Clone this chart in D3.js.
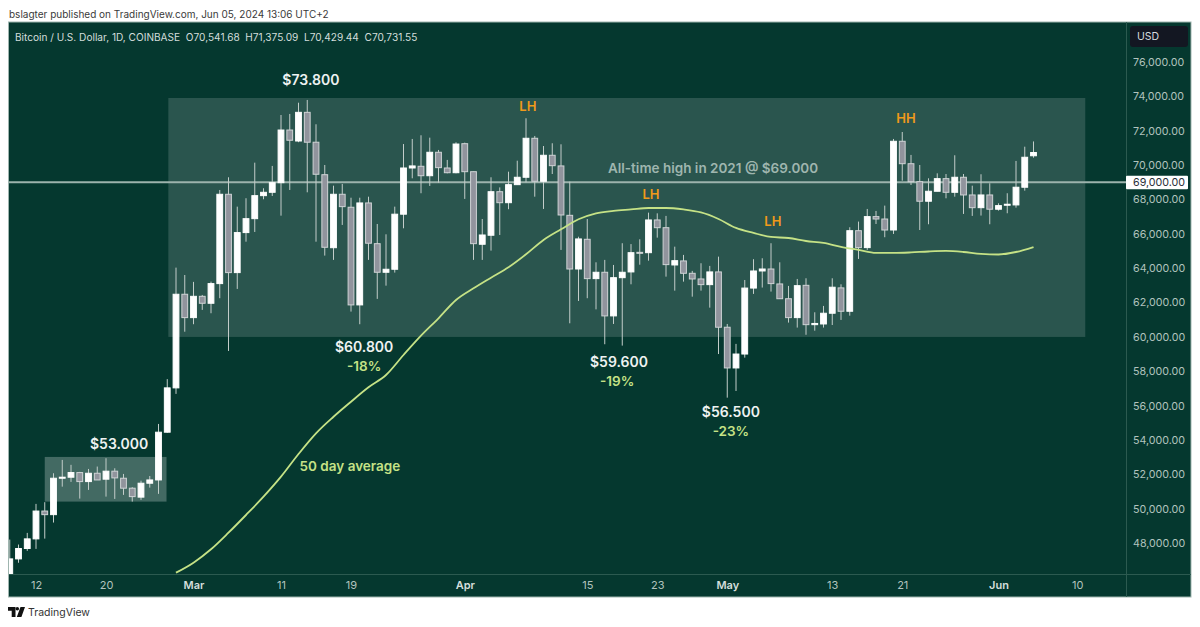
<!DOCTYPE html>
<html>
<head>
<meta charset="utf-8">
<script src="https://cdn.jsdelivr.net/npm/d3@7"></script>
<style>
  html, body { margin: 0; padding: 0; background: #fff; }
  svg { display: block; font-family: Inter, "Liberation Sans", sans-serif; }
</style>
</head>
<body>
<div id="graph"></div>
<script>
// daily candles, Feb 9 to Jun 5 2024
const dates = d3.timeDay.range(new Date(2024, 1, 9), new Date(2024, 5, 6));

const opens = [45290, 47075, 47680, 48240, 49860, 49650, 51770, 51830, 52100, 51575, 52060, 51715, 52180, 51770, 51190, 50670, 51480, 51670, 54450, 57030,
  62480, 61120, 62360, 61955, 63100, 68300, 63740, 66070, 66880, 68220, 68415, 68975, 72040, 71400, 73070, 71330, 69440, 65190, 68300, 67545,
  61860, 67795, 65425, 63760, 63935, 67140, 69830, 69930, 69380, 70745, 69830, 69555, 71245, 69615, 65390, 65915, 68450, 67810, 68860, 69290,
  71560, 69055, 70570, 69950, 67075, 63950, 65680, 63390, 63760, 61220, 63445, 63780, 64920, 64900, 66805, 66355, 64185, 64420, 63700, 63370,
  63040, 63780, 60560, 58190, 59000, 62840, 63835, 63950, 63080, 62220, 61120, 63000, 60710, 60750, 61375, 62850, 61490, 66180, 65195, 67000,
  66860, 66220, 71385, 70080, 69035, 67895, 68475, 69210, 68415, 69290, 68260, 67520, 68260, 67430, 67680, 67680, 68710, 70541.68];
const highs = [48200, 47910, 48588, 50276, 50375, 52060, 52835, 52550, 52140, 52310, 52450, 52935, 52350, 52020, 51250, 51630, 51900, 54930, 57540, 64030,
  63600, 63200, 62440, 63215, 68550, 69290, 67580, 68070, 70140, 68650, 69950, 72915, 72975, 73630, 73790, 72375, 70005, 68800, 68900, 68100,
  68100, 68160, 66570, 65970, 67580, 71225, 71520, 71735, 71595, 70880, 70300, 71325, 71305, 69615, 66860, 69290, 68700, 69615, 70255, 72725,
  71695, 71110, 71270, 71210, 69035, 65830, 66860, 64340, 64480, 64185, 65450, 65400, 65680, 67230, 67190, 67040, 65250, 64770, 63840, 64285,
  64130, 64670, 60750, 59590, 63310, 64520, 64575, 65450, 64340, 62965, 63370, 63410, 61430, 61800, 63410, 63060, 66380, 66710, 67445, 67330,
  67640, 71520, 71925, 70590, 70005, 69230, 69520, 69480, 70570, 69480, 68800, 69465, 68940, 67775, 68360, 70240, 71070, 71375.09];
const lows = [45250, 46850, 47540, 47657, 48255, 49190, 51280, 51556, 50585, 51090, 51670, 50700, 50565, 50800, 50410, 50510, 51225, 50860, 54420, 56680,
  60300, 60735, 61570, 61375, 62250, 59180, 62790, 65540, 66105, 68010, 68200, 67055, 68550, 71330, 68415, 65540, 64730, 64480, 66515, 61470,
  60735, 64480, 62210, 62980, 63740, 66320, 69230, 68360, 68785, 68975, 69520, 69520, 68030, 64480, 64480, 65020, 65930, 67430, 68860, 69000,
  68160, 67445, 69480, 65060, 60790, 62090, 62250, 61600, 59570, 60750, 59490, 63060, 64200, 64435, 65775, 63505, 62690, 63215, 62340, 62690,
  61700, 59000, 56460, 56850, 58790, 62500, 62870, 62635, 62220, 60830, 60540, 60120, 60360, 60540, 60690, 60985, 61235, 64535, 65060, 66570,
  65800, 65990, 69090, 68840, 66220, 66555, 68475, 68065, 68160, 67155, 67040, 67060, 66555, 67350, 67195, 67520, 68510, 70429.44];
const closes = [47075, 47680, 48240, 49860, 49650, 51770, 51830, 52100, 51575, 52060, 51670, 52180, 51790, 51190, 50700, 51480, 51670, 54450, 57030, 62480,
  61120, 62360, 61955, 63100, 68300, 63740, 66070, 66880, 68220, 68415, 68975, 72040, 71445, 73070, 71330, 69465, 65215, 68300, 67580, 61860,
  67795, 65450, 63760, 63935, 67140, 69830, 69950, 69380, 70745, 69850, 69555, 71225, 69615, 65425, 65930, 68450, 67810, 68860, 69290, 71560,
  69055, 70570, 69965, 67095, 63950, 65700, 63390, 63760, 61220, 63445, 63760, 64900, 64900, 66805, 66355, 64205, 64435, 63700, 63370, 63040,
  63780, 60560, 58190, 59000, 62840, 63835, 63950, 63100, 62220, 61120, 62980, 60710, 60780, 61375, 62890, 61490, 66180, 65195, 67000, 66860,
  66220, 71385, 70080, 69035, 67895, 68475, 69210, 68415, 69290, 68260, 67520, 68260, 67430, 67640, 67720, 68710, 70455, 70731.55];

// 50 day average, read every second candle from Feb 28
const maDates = dates.filter((d, i) => i >= 19 && i % 2 === 1);
const maValues = [46272, 46855, 47635, 48600, 49630, 50695, 51860, 53180, 54385, 55350, 56225, 57065, 57780, 58945, 60070, 61080, 62145, 62825, 63445, 64050,
  64805, 65640, 66260, 66845, 67195, 67330, 67415, 67500, 67500, 67415, 67240, 66860, 66340, 66050, 65815, 65755, 65580, 65465, 65235, 65060,
  64885, 64885, 64915, 64970, 65000, 64940, 64825, 64795, 64940, 65230];

const priceTicks = d3.range(48000, 76001, 2000);
const dayTicks = [new Date(2024, 1, 12), new Date(2024, 1, 20), new Date(2024, 2, 1), new Date(2024, 2, 11), new Date(2024, 2, 19), new Date(2024, 3, 1),
  new Date(2024, 3, 15), new Date(2024, 3, 23), new Date(2024, 4, 1), new Date(2024, 4, 13), new Date(2024, 4, 21), new Date(2024, 5, 1), new Date(2024, 5, 10)];
const dayLabels = ["12", "20", "Mar", "11", "19", "Apr", "15", "23", "May", "13", "21", "Jun", "10"];

const allTimeHigh = 69000;
const bigBoxDates = [new Date(2024, 1, 27, 3), new Date(2024, 5, 10, 22)];
const bigBoxPrices = [59995, 73905];
const smallBoxDates = [new Date(2024, 1, 13), new Date(2024, 1, 26, 22)];
const smallBoxPrices = [50410, 53010];

const whiteNotes = ["$73.800", "$53.000", "$60.800", "$59.600", "$56.500"];
const whiteDates = [new Date(2024, 2, 14, 10), new Date(2024, 1, 21, 12), new Date(2024, 2, 20, 12), new Date(2024, 3, 18, 15), new Date(2024, 4, 1, 10)];
const whitePrices = [74950, 53770, 59410, 58540, 55630];
const greenNotes = ["-18%", "-19%", "-23%", "50 day average"];
const greenDates = [new Date(2024, 2, 20, 12), new Date(2024, 3, 18, 10), new Date(2024, 4, 1, 10), new Date(2024, 2, 18, 21)];
const greenPrices = [58310, 57430, 54520, 52490];
const orangeNotes = ["LH", "LH", "LH", "HH"];
const orangeDates = [new Date(2024, 3, 8, 5), new Date(2024, 3, 22, 7), new Date(2024, 4, 6, 5), new Date(2024, 4, 21, 10)];
const orangePrices = [73440, 68320, 66750, 72740];

const bg = "#05382f";
const lineCol = "#2c5a50";

const svg = d3.select("#graph")
    .append("svg")
    .attr("width", 1200)
    .attr("height", 627);

svg.append("text")
    .attr("x", 9)
    .attr("y", 18)
    .attr("font-size", 10)
    .attr("fill", "#3a3a3a")
    .text("bslagter published on TradingView.com, Jun 05, 2024 13:06 UTC+2");

// chart frame
svg.append("rect")
    .attr("x", 8.5)
    .attr("y", 22)
    .attr("width", 1182.5)
    .attr("height", 575)
    .attr("fill", bg)
    .attr("stroke", "#9fb5af")
    .attr("stroke-width", 1);

const xScale = d3.scaleTime()
    .domain([new Date(2024, 1, 12), new Date(2024, 5, 10)])
    .range([36, 1077.25]);

const yScale = d3.scaleLinear()
    .domain([48000, 76000])
    .range([543, 62]);

svg.append("clipPath")
    .attr("id", "plot-clip")
    .append("rect")
    .attr("x", 9)
    .attr("y", 23)
    .attr("width", 1117)
    .attr("height", 551);

const plot = svg.append("g").attr("clip-path", "url(#plot-clip)");

plot.append("rect")
    .attr("x", xScale(bigBoxDates[0]))
    .attr("y", yScale(bigBoxPrices[1]))
    .attr("width", xScale(bigBoxDates[1]) - xScale(bigBoxDates[0]))
    .attr("height", yScale(bigBoxPrices[0]) - yScale(bigBoxPrices[1]))
    .attr("fill", "#fff")
    .attr("opacity", 0.15);

plot.append("rect")
    .attr("x", xScale(smallBoxDates[0]))
    .attr("y", yScale(smallBoxPrices[1]))
    .attr("width", xScale(smallBoxDates[1]) - xScale(smallBoxDates[0]))
    .attr("height", yScale(smallBoxPrices[0]) - yScale(smallBoxPrices[1]))
    .attr("fill", "#fff")
    .attr("opacity", 0.25);

plot.append("line")
    .attr("x1", 9)
    .attr("x2", 1126)
    .attr("y1", yScale(allTimeHigh))
    .attr("y2", yScale(allTimeHigh))
    .attr("stroke", "#9db3ad")
    .attr("stroke-width", 2);

const candles = plot.append("g").selectAll("g")
    .data(dates)
    .enter()
    .append("g");

candles.append("line")
    .attr("x1", d => xScale(d))
    .attr("x2", d => xScale(d))
    .attr("y1", (d, i) => yScale(highs[i]))
    .attr("y2", (d, i) => yScale(lows[i]))
    .attr("stroke", "#c3cdca")
    .attr("stroke-width", 1);

candles.append("rect")
    .attr("x", d => xScale(d) - 2.9)
    .attr("y", (d, i) => yScale(Math.max(opens[i], closes[i])))
    .attr("width", 5.8)
    .attr("height", (d, i) => Math.max(1, Math.abs(yScale(opens[i]) - yScale(closes[i]))))
    .attr("fill", (d, i) => closes[i] >= opens[i] ? "#fff" : "#91949d")
    .attr("stroke", (d, i) => closes[i] >= opens[i] ? "#fff" : "#cfd3d5")
    .attr("stroke-width", 1);

const maLine = d3.line()
    .x(d => xScale(d))
    .y((d, i) => yScale(maValues[i]))
    .curve(d3.curveMonotoneX);

plot.append("path")
    .attr("d", maLine(maDates))
    .attr("fill", "none")
    .attr("stroke", "#c5e286")
    .attr("stroke-width", 1.8);

// axis separators
svg.append("line")
    .attr("x1", 1126.5).attr("x2", 1126.5)
    .attr("y1", 22).attr("y2", 597)
    .attr("stroke", lineCol);
svg.append("line")
    .attr("x1", 9).attr("x2", 1191)
    .attr("y1", 574.5).attr("y2", 574.5)
    .attr("stroke", lineCol);

const yAxis = d3.axisRight(yScale)
    .tickValues(priceTicks)
    .tickSize(0)
    .tickPadding(0)
    .tickFormat(d3.format(",.2f"));

const yGroup = svg.append("g")
    .attr("transform", "translate(1133,0)")
    .call(yAxis);
yGroup.select(".domain").remove();
yGroup.selectAll("text")
    .attr("font-family", "Inter, 'Liberation Sans', sans-serif")
    .attr("font-size", 10.7)
    .attr("fill", "#b2c3be");

const xAxis = d3.axisBottom(xScale)
    .tickValues(dayTicks)
    .tickSize(0)
    .tickPadding(0)
    .tickFormat((d, i) => dayLabels[i]);

const xGroup = svg.append("g")
    .attr("transform", "translate(0,581)")
    .call(xAxis);
xGroup.select(".domain").remove();
xGroup.selectAll("text")
    .attr("font-family", "Inter, 'Liberation Sans', sans-serif")
    .attr("font-size", 11)
    .attr("font-weight", (d, i) => isNaN(dayLabels[i]) ? 600 : 400)
    .attr("fill", (d, i) => isNaN(dayLabels[i]) ? "#d5dfdc" : "#b2c3be");

svg.append("text")
    .attr("x", 15)
    .attr("y", 40.5)
    .attr("font-size", 10.1)
    .attr("fill", "#d3dedb")
    .text("Bitcoin / U.S. Dollar, 1D, COINBASE\u00a0\u00a0O70,541.68\u00a0\u00a0H71,375.09\u00a0\u00a0L70,429.44\u00a0\u00a0C70,731.55");

// annotations
function addNotes(notes, noteDates, notePrices, colour, size, weight) {
    svg.append("g").selectAll("text")
        .data(notes)
        .enter()
        .append("text")
        .attr("x", (d, i) => xScale(noteDates[i]))
        .attr("y", (d, i) => yScale(notePrices[i]))
        .attr("dy", "0.36em")
        .attr("text-anchor", "middle")
        .attr("font-size", size)
        .attr("font-weight", weight)
        .attr("fill", colour)
        .text(d => d);
}

addNotes(whiteNotes, whiteDates, whitePrices, "#eef2f1", 14, 600);
addNotes(greenNotes, greenDates, greenPrices, "#c5e286", 13.5, 600);
addNotes(orangeNotes, orangeDates, orangePrices, "#f09a1a", 13, 600);
addNotes(["All-time high in 2021 @ $69.000"], [new Date(2024, 3, 29, 9)], [69830], "#9fb6af", 13.5, 600);

// price tags on the axis
svg.append("rect")
    .attr("x", 1130)
    .attr("y", 26)
    .attr("width", 58)
    .attr("height", 21)
    .attr("rx", 3)
    .attr("fill", "#131722");
svg.append("text")
    .attr("x", 1137)
    .attr("y", 40)
    .attr("font-size", 10.5)
    .attr("fill", "#d6dade")
    .text("USD");

svg.append("rect")
    .attr("x", 1126)
    .attr("y", yScale(allTimeHigh) - 6.5)
    .attr("width", 62)
    .attr("height", 13.5)
    .attr("rx", 1)
    .attr("fill", "#fff");
svg.append("text")
    .attr("x", 1133)
    .attr("y", yScale(allTimeHigh))
    .attr("dy", "0.36em")
    .attr("font-size", 10.7)
    .attr("fill", "#2a2e39")
    .text(d3.format(",.2f")(allTimeHigh));

// footer logo
svg.append("path")
    .attr("d", "M8 607h7.5v10h-3.8v-6.2H8z M20.5 607h4.5l-3.6 10h-4.6z")
    .attr("fill", "#111");
svg.append("circle")
    .attr("cx", 17.3)
    .attr("cy", 608.8)
    .attr("r", 1.8)
    .attr("fill", "#111");
svg.append("text")
    .attr("x", 28)
    .attr("y", 616)
    .attr("font-size", 10.5)
    .attr("fill", "#333")
    .text("TradingView");
</script>
</body>
</html>
